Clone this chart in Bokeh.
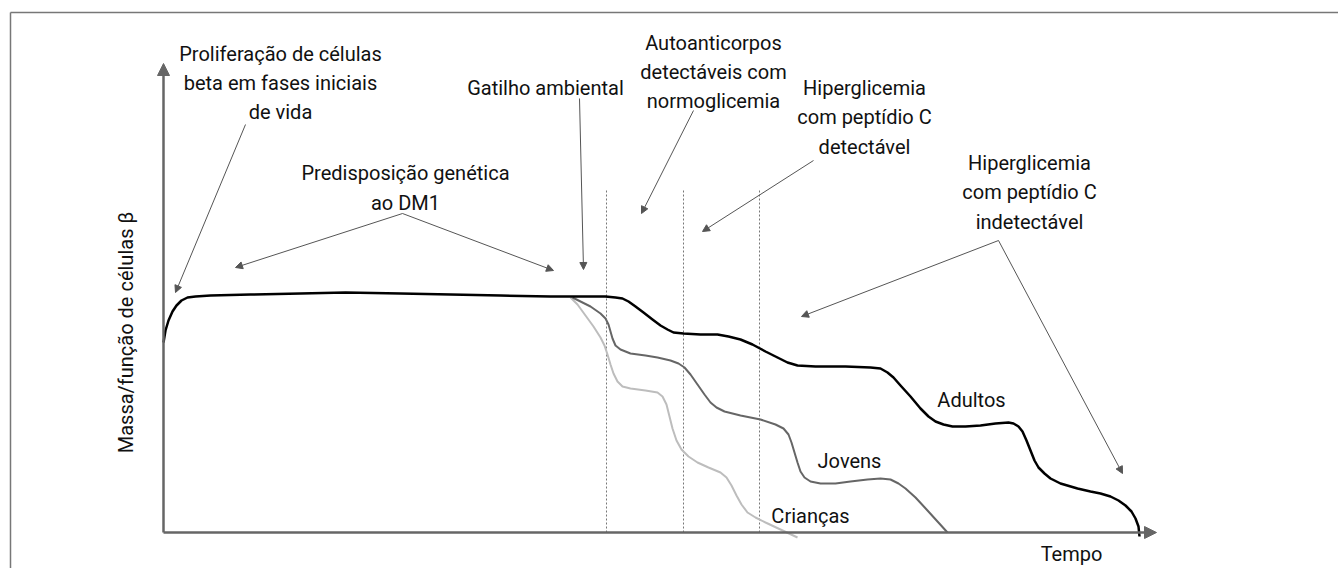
from bokeh.plotting import figure
from bokeh.models import Range1d, Arrow, NormalHead, ColumnDataSource
from bokeh.core.properties import value
from bokeh.embed import file_html
from bokeh.resources import INLINE
import math

# ---------------- data (time units, beta-cell mass units) ----------------
adult_t = [0, 2, 5, 9, 13, 18, 24, 32, 47, 87, 137, 182, 237, 287, 337, 387, 442, 452, 459, 465,
           472, 480, 489, 497, 504, 510, 520, 537, 554, 565, 577, 589, 602, 614, 624, 634, 652, 682,
           707, 717, 724, 730, 737, 747, 757, 765, 772, 780, 789, 802, 817, 832, 845, 850, 855, 859,
           863, 867, 871, 875, 881, 887, 897, 914, 927, 937, 947, 955, 962, 968, 972, 975, 976]
adult_m = [190, 202, 212, 221, 227, 232, 235, 236, 237, 238, 239, 240, 239, 238, 237, 236, 236, 235, 234, 231,
           226, 220, 213, 207, 203, 200, 199, 198, 198, 196, 193, 188, 181, 175, 170, 167, 166, 166,
           165, 164, 160, 155, 147, 136, 124, 116, 111, 108, 106, 106, 107, 109, 110, 109, 106, 101,
           92, 82, 72, 65, 59, 54, 49, 44, 41, 39, 36, 32, 27, 21, 14, 6, -4]

young_t = [409, 417, 427, 437, 442, 445, 447, 449, 452, 457, 467, 482, 494, 507, 515, 521, 527, 534, 541, 547,
           553, 561, 577, 597, 612, 620, 625, 628, 631, 634, 637, 641, 647, 657, 672, 687, 704, 717, 727, 735,
           742, 752, 764, 774, 784]
young_m = [235, 231, 226, 219, 214, 208, 201, 194, 187, 183, 179, 177, 175, 172, 169, 165, 158, 148, 138, 130,
           125, 121, 117, 113, 108, 104, 98, 90, 80, 70, 61, 55, 51, 49, 49, 51, 53, 54, 53, 49,
           44, 35, 22, 11, 0]

child_t = [407, 414, 422, 430, 437, 441, 444, 447, 450, 454, 459, 467, 482, 494, 499, 503, 506, 509, 513, 518,
           525, 534, 545, 557, 563, 568, 573, 578, 584, 592, 602, 617, 634]
child_m = [235, 228, 217, 206, 195, 187, 178, 168, 159, 151, 146, 144, 142, 140, 136, 128, 116, 104, 92, 83,
           76, 70, 65, 60, 55, 47, 37, 28, 20, 15, 10, 3, -5]

phase_t = [443, 520, 596]   # dotted phase boundaries
phase_top = 344

series_labels = ["Adultos", "Jovens", "Crianças"]
y_label = "Massa/função de células β"
x_label = "Tempo"
ann_texts = [
    ["Proliferação de células", "beta em fases iniciais", "de vida"],
    ["Predisposição genética", "ao DM1"],
    ["Gatilho ambiental"],
    ["Autoanticorpos", "detectáveis com", "normoglicemia"],
    ["Hiperglicemia", "com peptídio C", "detectável"],
    ["Hiperglicemia", "com peptídio C", "indetectável"],
]

# ---------------- layout ----------------
FONT = value("Roboto")
FS = "20px"
TXT = "#111111"
ARR = "#555555"
AX = "#666666"

p = figure(width=1338, height=568, output_backend="svg", toolbar_location=None,
           x_range=Range1d(-163, 1175), y_range=Range1d(-36, 532), min_border=0)
p.axis.visible = False
p.grid.visible = False
p.outline_line_color = None
p.background_fill_color = "white"

# frame (top and left edges)
p.segment(x0=[-153, -153], y0=[520, 520], x1=[-153, 1175], y1=[-36, 520], line_color="#777777", line_width=1.5)

# dotted phase lines
p.segment(x0=phase_t, y0=[0] * 3, x1=phase_t, y1=[phase_top] * 3, line_color="#777777",
          line_width=1, line_dash="2 2")

# axes with arrowheads
p.add_layout(Arrow(x_start=0, y_start=0, x_end=0, y_end=469, line_color=AX, line_width=2.5,
                   end=NormalHead(size=12, fill_color=AX, line_color=AX)))
p.add_layout(Arrow(x_start=0, y_start=0, x_end=993, y_end=0, line_color=AX, line_width=2.5,
                   end=NormalHead(size=12, fill_color=AX, line_color=AX)))

# curves
p.line(child_t, child_m, line_color="#bdbdbd", line_width=2, line_join="round")
p.line(young_t, young_m, line_color="#666666", line_width=2, line_join="round")
p.line(adult_t, adult_m, line_color="#000000", line_width=2.5, line_join="round")

# annotation arrows
arrows = ColumnDataSource(dict(
    xs=[82, 239, 239, 416, 530, 650, 835, 835],
    ys=[408, 319, 319, 434, 422, 372, 292, 292],
    xe=[12, 72, 390, 420, 478, 539, 638, 959],
    ye=[240, 265, 262, 263, 319, 301, 216, 59],
))
p.add_layout(Arrow(source=arrows, x_start="xs", y_start="ys", x_end="xe", y_end="ye",
                   line_color=ARR, line_width=1,
                   end=NormalHead(size=7, fill_color=ARR, line_color=ARR)))

# annotation texts (centre x, baseline of first line, line step)
ann_pos = [(117, 479, 29), (242, 360, 30), (382, 445, 29), (550, 490, 29), (701, 445, 29.5), (866, 370, 29.5)]
tx, ty, tt = [], [], []
for lines, (cx, by, step) in zip(ann_texts, ann_pos):
    for i, s in enumerate(lines):
        tx.append(cx)
        ty.append(by - i * step)
        tt.append(s)
p.text(x=tx, y=ty, text=tt, text_font=FONT, text_font_size=FS, text_align="center",
       text_baseline="alphabetic", text_color=TXT)

# series labels
p.text(x=[808, 686, 647], y=[133, 72, 17], text=series_labels, text_font=FONT, text_font_size=FS,
       text_align="center", text_baseline="alphabetic", text_color=TXT)

# axis titles
p.text(x=[-38], y=[200], text=[y_label], angle=math.pi / 2, text_font=FONT, text_font_size=FS,
       text_align="center", text_baseline="middle", text_color=TXT)
p.text(x=[908], y=[-21], text=[x_label], text_font=FONT, text_font_size=FS,
       text_align="center", text_baseline="alphabetic", text_color=TXT)

open("out.html", "w").write(file_html(p, INLINE))
